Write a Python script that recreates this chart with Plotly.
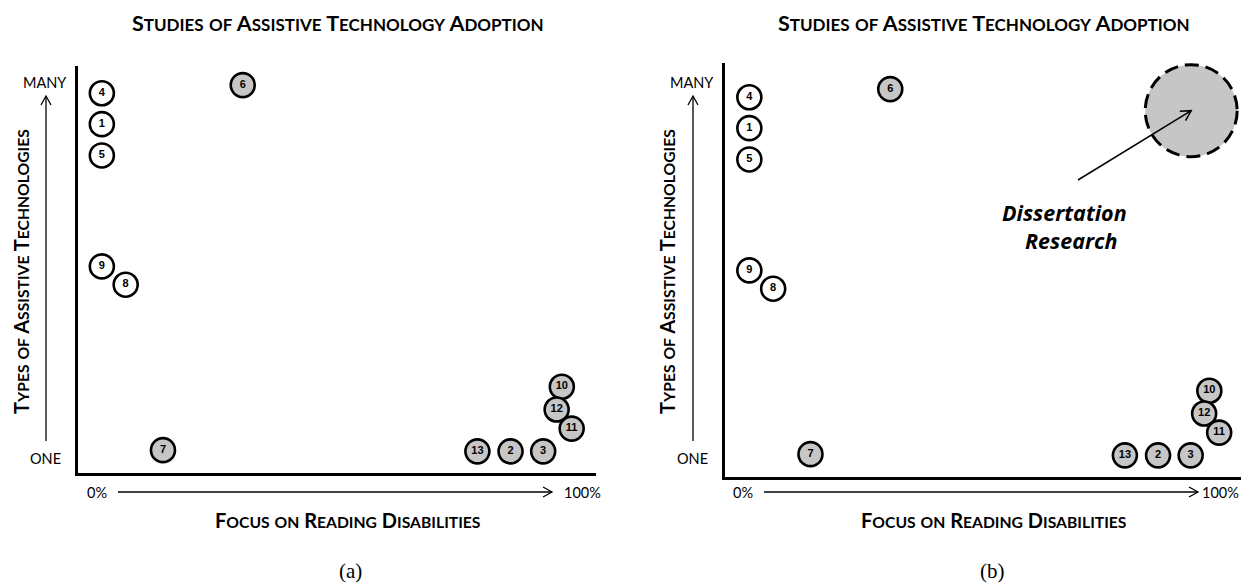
import math
import plotly.graph_objects as go

# ---------------- data ----------------
study_ids = ["4", "1", "5", "9", "8", "6", "7", "13", "2", "3", "10", "11", "12"]
focus_on_reading = [4.7, 4.7, 4.7, 4.7, 9.3, 31.9, 16.5, 77.2, 83.6, 89.9, 93.5, 95.4, 92.5]
types_of_at = [93.3, 85.7, 78.0, 50.7, 46.2, 95.3, 5.5, 5.2, 5.2, 5.2, 21.1, 10.8, 15.5]
reading_focused = [False, False, False, False, False, True, True, True, True, True, True, True, True]

dissertation_focus = [90.0]
dissertation_types = [90.0]

panel_labels = ["(a)", "(b)"]
chart_title = "Studies of Assistive Technology Adoption"
y_title = "Types of Assistive Technologies"
x_title = "Focus on Reading Disabilities"

# page offset (body margin) and figure size
OFF = 8
PW, PH = 1249, 584
W, H = PW - 2 * OFF, PH - OFF
FONT = "Lato"
GRAY = "#c6c6c6"


def px(x):
    return (x - OFF) / W


def py(y):
    return 1 - (y - OFF) / H


def smallcaps(text, small):
    out = []
    for word in text.split(" "):
        if word.lower() in ("of", "on"):
            out.append(f"<span style='font-size:{small}px'>{word.upper()}</span>")
        else:
            out.append(f"{word[0].upper()}<span style='font-size:{small}px'>{word[1:].upper()}</span>")
    return " ".join(out)


fig = go.Figure()

colors = [GRAY if r else "white" for r in reading_focused]

for xa, ya in (("x", "y"), ("x2", "y2")):
    fig.add_trace(go.Scatter(
        x=focus_on_reading, y=types_of_at, text=study_ids,
        mode="markers+text", xaxis=xa, yaxis=ya,
        marker=dict(size=24, color=colors, line=dict(color="black", width=2.6)),
        textposition="middle center",
        textfont=dict(family="Liberation Sans", size=11, color="black", weight="bold"),
        hoverinfo="skip", showlegend=False, cliponaxis=False,
    ))

# axes (pixel geometry of the two panels)
SCALE_X = 518.0          # pixels per 100 units on the x axes
L_X = (77.5, 595.5)
L_Y = (66.0, 472.5)
R_X = (725.0, 1240.5)
R_Y = (63.0, 476.5)
ystretch = (R_Y[1] - R_Y[0]) / (L_Y[1] - L_Y[0])
axis_common = dict(showgrid=False, zeroline=False, showticklabels=False, ticks="",
                   showline=True, linecolor="black", linewidth=3)
fig.update_layout(
    xaxis=dict(domain=[px(L_X[0]), px(L_X[1])], range=[0, 100], anchor="y", **axis_common),
    yaxis=dict(domain=[py(L_Y[1]), py(L_Y[0])], range=[0, 100], anchor="x", **axis_common),
    xaxis2=dict(domain=[px(R_X[0]), min(1.0, px(R_X[1]))],
                range=[0, 100 * (R_X[1] - R_X[0]) / SCALE_X], anchor="y2", **axis_common),
    yaxis2=dict(domain=[py(R_Y[1]), py(R_Y[0])], range=[0, 100 * ystretch], anchor="x2", **axis_common),
)

# dissertation circle (right panel)
fig.add_shape(type="circle", xref="x2", yref="y2",
              xsizemode="pixel", ysizemode="pixel",
              xanchor=dissertation_focus[0], yanchor=dissertation_types[0],
              x0=-46, x1=46, y0=-46, y1=46,
              fillcolor=GRAY, line=dict(color="black", width=3, dash="14px,7px"), layer="above")


def arrow(x0, y0, x1, y1, head=9, half=5, width=1.5):
    dx, dy = x1 - x0, y1 - y0
    L = math.hypot(dx, dy)
    ux, uy = dx / L, dy / L
    bx, by = x1 - head * ux, y1 - head * uy
    wx, wy = -uy * half, ux * half
    fig.add_shape(type="line", xref="paper", yref="paper",
                  x0=px(x0), y0=py(y0), x1=px(x1), y1=py(y1),
                  line=dict(color="black", width=width))
    path = (f"M {px(bx + wx)} {py(by + wy)} L {px(x1)} {py(y1)} "
            f"L {px(bx - wx)} {py(by - wy)}")
    fig.add_shape(type="path", xref="paper", yref="paper", path=path,
                  line=dict(color="black", width=width))


def ann(text, x, y, size, family=FONT, angle=0, xanchor="center"):
    fig.add_annotation(text=text, x=px(x), y=py(y), xref="paper", yref="paper",
                       showarrow=False, xanchor=xanchor, yanchor="middle",
                       textangle=angle,
                       font=dict(family=family, size=size, color="black"))


# per panel: x offset, side column x (MANY/ONE/arrow)
for idx, ox, col in ((0, 0, 45), (1, 646, 692)):
    ann("<b>" + smallcaps(chart_title, 17) + "</b>", 338 + ox, 23, 21.5)
    ann("<b>" + smallcaps(y_title, 15.7) + "</b>", 21 + ox, 272, 20, angle=-90)
    ann("<b>" + smallcaps(x_title, 15.7) + "</b>", 348 + ox, 520, 20)
    ann("MANY", col, 82, 14.5)
    ann("ONE", col, 458, 14.5)
    ann("0%", 97 + ox, 492, 14.5)
    if idx == 0:
        ann("100%", 582, 492, 14.5)
    else:
        ann("100%", 1240.5, 492, 14.5, xanchor="right")
    ann(panel_labels[idx], 350 + (642 if idx else 0), 571, 21, family="Liberation Serif")
    arrow(col + 1, 441, col + 1, 96, width=1.3)
    arrow(118 + ox, 492, 552 + ox, 492, width=1.3)

# dissertation arrow + label: tip at the dissertation point
tip_x = R_X[0] + dissertation_focus[0] / 100 * SCALE_X
tip_y = R_Y[1] - dissertation_types[0] / (100 * ystretch) * (R_Y[1] - R_Y[0])
arrow(1078, 180, tip_x, tip_y, head=10, half=5.5, width=1.5)
ann("<b><i>Dissertation</i></b>", 1064, 212, 21.5, family="Open Sans")
ann("<b><i>Research</i></b>", 1071, 240, 21.5, family="Open Sans")

fig.update_layout(
    width=W, height=H, margin=dict(l=0, r=0, t=0, b=0),
    paper_bgcolor="white", plot_bgcolor="white", showlegend=False,
)

fig.write_html("out.html")
